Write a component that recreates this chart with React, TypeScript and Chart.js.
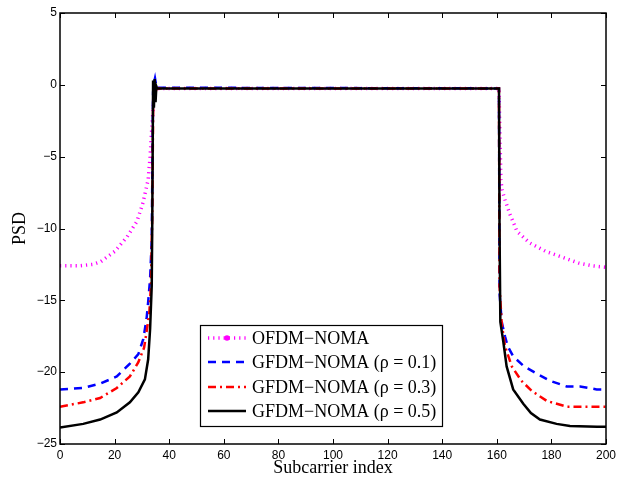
import React, { useEffect, useRef } from "react";
import { Chart, registerables } from "chart.js";

Chart.register(...registerables);

const xTickValues = [0, 20, 40, 60, 80, 100, 120, 140, 160, 180, 200];
const yTickValues = [5, 0, -5, -10, -15, -20, -25];

const seriesNames = [
  "OFDM\u2212NOMA",
  "GFDM\u2212NOMA (\u03c1 = 0.1)",
  "GFDM\u2212NOMA (\u03c1 = 0.3)",
  "GFDM\u2212NOMA (\u03c1 = 0.5)",
];

const ofdmX = [0, 7, 12, 15, 20, 24.5, 28.2, 30.4, 32.3, 33, 33.6, 34.1, 34.5, 35.5, 160.8, 161.2, 161.5, 161.9, 163, 164.8, 167.4, 172, 178, 184, 190, 195, 200];
const ofdmY = [-12.6, -12.6, -12.5, -12.3, -11.6, -10.6, -9.5, -8.2, -6.6, -5, -3.1, -1.7, -0.3, -0.25, -0.25, -4, -6.6, -7.3, -8, -9, -10.2, -11, -11.6, -12.0, -12.4, -12.6, -12.7];

const gfdm1X = [0, 8.5, 14.7, 20.8, 25.6, 28.7, 30.5, 31.7, 32.3, 33, 33.6, 34.1, 34.5, 34.8, 35.4, 160.8, 161.0, 161.8, 163, 164, 166, 170, 174.6, 179.5, 185.6, 190.5, 196.6, 200];
const gfdm1Y = [-21.2, -21.1, -20.8, -20.3, -19.4, -18.75, -17.7, -16.3, -15.1, -13.5, -10.8, -0.5, 0.2, 0.45, -0.2, -0.25, -14.5, -16.5, -17.5, -18.2, -18.9, -19.6, -20.1, -20.6, -21.0, -21.0, -21.2, -21.2];

const gfdm3X = [0, 8.5, 14.7, 20.8, 25.6, 28.7, 30.8, 31.7, 32.7, 33.3, 33.8, 34.2, 34.6, 35.4, 160.8, 161.0, 161.8, 163, 165.5, 169, 172.8, 178.3, 185.6, 190.5, 196.6, 200];
const gfdm3Y = [-22.4, -22.1, -21.8, -21.1, -20.3, -19.3, -18.3, -17.2, -15.9, -14, -9, 0.2, -0.8, -0.25, -0.25, -14, -16.6, -18.2, -19.6, -20.6, -21.3, -22.0, -22.4, -22.4, -22.4, -22.4];

const gfdm5X = [0, 8.5, 14.7, 20.8, 25.6, 28.7, 31.1, 32.3, 33, 33.6, 33.8, 34.1, 34.4, 34.7, 35.0, 35.3, 35.6, 160.8, 161.0, 161.3, 162.4, 163.6, 166, 169.7, 172.5, 175.8, 181.9, 186.8, 196.7, 200];
const gfdm5Y = [-23.85, -23.6, -23.3, -22.8, -22.1, -21.4, -20.5, -19.1, -17.0, -14.0, -9.4, 0.3, -1.6, 0.4, -1.2, -0.1, -0.25, -0.25, -10, -16.5, -17.9, -19.6, -21.2, -22.2, -22.85, -23.3, -23.6, -23.75, -23.8, -23.8];

const colors = ["#ff00ff", "#0000ff", "#ff0000", "#000000"];
const dashes: number[][] = [[1.2, 4], [8, 6], [8, 4, 2, 4], []];
const widths = [3.5, 2.5, 2.5, 2.5];

const SERIF = "'Liberation Serif', 'Times New Roman', serif";
const SANS = "'Liberation Sans', Arial, sans-serif";

function pts(xs: number[], ys: number[]) {
  return xs.map((x, i) => ({ x, y: ys[i] }));
}

const boxTicksPlugin = {
  id: "boxTicks",
  afterDatasetsDraw(chart: any) {
    const { ctx, chartArea, scales } = chart;
    const { left, right, top, bottom } = chartArea;
    const L = 5;
    ctx.save();
    ctx.strokeStyle = "#000";
    ctx.lineWidth = 1;
    ctx.beginPath();
    for (const v of xTickValues) {
      const px = Math.round(scales.x.getPixelForValue(v)) + 0.5;
      ctx.moveTo(px, bottom);
      ctx.lineTo(px, bottom - L);
      ctx.moveTo(px, top);
      ctx.lineTo(px, top + L);
    }
    for (const v of yTickValues) {
      const py = Math.round(scales.y.getPixelForValue(v)) + 0.5;
      ctx.moveTo(left, py);
      ctx.lineTo(left + L, py);
      ctx.moveTo(right, py);
      ctx.lineTo(right - L, py);
    }
    ctx.stroke();
    ctx.lineWidth = 1.5;
    ctx.strokeRect(left, top, right - left, bottom - top);
    ctx.restore();
  },
};

const legendPlugin = {
  id: "matLegend",
  afterDraw(chart: any) {
    const { ctx } = chart;
    const bx = 200, by = 325, bw = 242, bh = 101;
    ctx.save();
    ctx.fillStyle = "#fff";
    ctx.fillRect(bx, by, bw, bh);
    ctx.strokeStyle = "#000";
    ctx.lineWidth = 1.2;
    ctx.strokeRect(bx + 0.5, by + 0.5, bw, bh);
    const rows = [338, 362, 387, 411];
    ctx.font = `18px ${SERIF}`;
    ctx.textBaseline = "middle";
    ctx.textAlign = "left";
    seriesNames.forEach((name, i) => {
      const y = rows[i];
      ctx.strokeStyle = colors[i];
      ctx.lineWidth = widths[i];
      ctx.setLineDash(dashes[i]);
      ctx.beginPath();
      ctx.moveTo(208, y);
      ctx.lineTo(246, y);
      ctx.stroke();
      ctx.setLineDash([]);
      if (i === 0) {
        ctx.fillStyle = colors[0];
        ctx.beginPath();
        ctx.arc(227, y, 2.8, 0, Math.PI * 2);
        ctx.fill();
      }
      ctx.fillStyle = "#000";
      ctx.fillText(name, 252, y + 1);
    });
    ctx.restore();
  },
};

export default function App() {
  const ref = useRef<HTMLCanvasElement | null>(null);
  useEffect(() => {
    if (!ref.current) return;
    const xsList = [ofdmX, gfdm1X, gfdm3X, gfdm5X];
    const ysList = [ofdmY, gfdm1Y, gfdm3Y, gfdm5Y];
    const chart = new Chart(ref.current, {
      type: "line",
      data: {
        datasets: seriesNames.map((name, i) => ({
          label: name,
          data: pts(xsList[i], ysList[i]),
          borderColor: colors[i],
          backgroundColor: colors[i],
          borderWidth: widths[i],
          borderDash: dashes[i],
          pointRadius: 0,
          tension: 0,
          fill: false,
          order: 3 - i,
        })),
      },
      options: {
        animation: false,
        responsive: false,
        maintainAspectRatio: false,
        layout: { padding: { top: 13, right: 13, left: 0, bottom: 0 } },
        plugins: { legend: { display: false }, tooltip: { enabled: false } },
        scales: {
          x: {
            type: "linear",
            min: 0,
            max: 200,
            afterFit: (s: any) => {
              s.height = 39;
              s.paddingLeft = 0;
              s.paddingRight = 0;
            },
            afterBuildTicks: (s: any) => { s.ticks = xTickValues.map((v) => ({ value: v })); },
            ticks: {
              font: { family: SANS, size: 12 },
              color: "#000",
              padding: 4,
              maxRotation: 0,
              callback: (v: any) => String(v).replace("-", "\u2212"),
            },
            grid: { display: false, drawTicks: false },
            border: { display: false },
            title: {
              display: true,
              text: "Subcarrier index",
              font: { family: SERIF, size: 18, lineHeight: 0.8 },
              color: "#000",
              padding: { top: 0, bottom: 8 },
            },
          },
          y: {
            type: "linear",
            min: -25,
            max: 5,
            afterFit: (s: any) => {
              s.width = 60;
              s.paddingTop = 0;
              s.paddingBottom = 0;
            },
            afterBuildTicks: (s: any) => { s.ticks = yTickValues.map((v) => ({ value: v })); },
            ticks: {
              font: { family: SANS, size: 12 },
              color: "#000",
              padding: 3,
              callback: (v: any) => String(v).replace("-", "\u2212"),
            },
            grid: { display: false, drawTicks: false },
            border: { display: false },
            title: {
              display: true,
              text: "PSD",
              font: { family: SERIF, size: 18, lineHeight: 1.2 },
              color: "#000",
              padding: { top: 9, bottom: 0 },
            },
          },
        },
      },
      plugins: [boxTicksPlugin, legendPlugin],
    } as any);
    return () => chart.destroy();
  }, []);
  return (
    <canvas
      ref={ref}
      width={619}
      height={483}
      style={{ display: "block", position: "absolute", left: 0, top: 0 }}
    />
  );
}
